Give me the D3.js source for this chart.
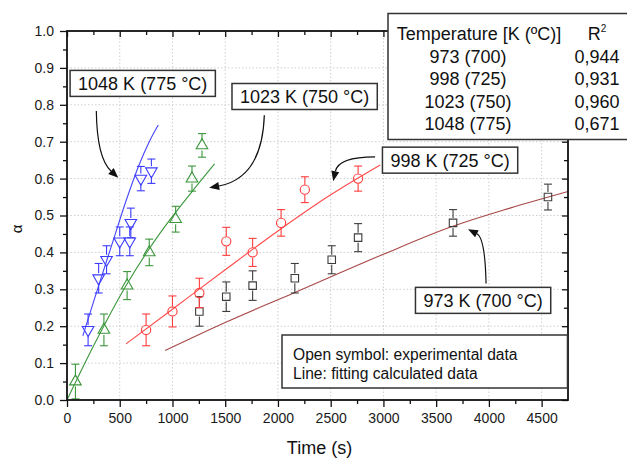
<!DOCTYPE html>
<html>
<head>
<meta charset="utf-8">
<script src="https://cdn.jsdelivr.net/npm/d3@7"></script>
<style>
  body { margin: 0; background: #fff; }
  svg { display: block; font-family: "Liberation Sans", Arial, sans-serif; }
</style>
</head>
<body>
<svg id="chart" width="627" height="458"></svg>
<script>
// experimental data: time (s), alpha, error
const t973 = [1255, 1510, 1760, 2160, 2510, 2760, 3660, 4560];
const a973 = [0.24, 0.28, 0.31, 0.33, 0.38, 0.44, 0.48, 0.55];
const e973 = [0.040, 0.040, 0.040, 0.040, 0.038, 0.038, 0.036, 0.035];

const t998 = [750, 1000, 1255, 1510, 1760, 2030, 2255, 2760];
const a998 = [0.19, 0.24, 0.29, 0.43, 0.40, 0.48, 0.57, 0.60];
const e998 = [0.043, 0.042, 0.040, 0.038, 0.038, 0.036, 0.035, 0.034];

const t1023 = [80, 350, 570, 780, 1030, 1185, 1280];
const a1023 = [0.05, 0.19, 0.31, 0.40, 0.49, 0.60, 0.69];
const e1023 = [0.047, 0.043, 0.038, 0.036, 0.035, 0.034, 0.032];

const t1048 = [200, 300, 375, 500, 595, 605, 700, 800];
const a1048 = [0.19, 0.33, 0.38, 0.43, 0.43, 0.48, 0.60, 0.62];
const e1048 = [0.043, 0.040, 0.038, 0.039, 0.039, 0.040, 0.033, 0.033];

// fitted curves
const fitT973 = [930, 1500, 2150, 3000, 3650, 4200, 4750];
const fitA973 = [0.134, 0.21, 0.29, 0.395, 0.47, 0.52, 0.565];
const fitT998 = [560, 1000, 1500, 2000, 2500, 2970];
const fitA998 = [0.152, 0.246, 0.353, 0.458, 0.556, 0.637];
const fitT1023 = [0, 240, 570, 780, 980, 1200, 1400];
const fitA1023 = [0, 0.14, 0.315, 0.41, 0.49, 0.57, 0.64];
const fitT1048 = [150, 300, 430, 560, 680, 780, 865];
const fitA1048 = [0.174, 0.31, 0.425, 0.54, 0.635, 0.70, 0.745];

// labels
const boxLabels = ["973 K (700 °C)", "998 K (725 °C)", "1023 K (750 °C)", "1048 K (775 °C)"];
const tempLabels = ["973 (700)", "998 (725)", "1023 (750)", "1048 (775)"];
const r2Labels = ["0,944", "0,931", "0,960", "0,671"];
const xTicks = [0, 500, 1000, 1500, 2000, 2500, 3000, 3500, 4000, 4500];
const yTicks = [0, 0.1, 0.2, 0.3, 0.4, 0.5, 0.6, 0.7, 0.8, 0.9, 1.0];

const svg = d3.select("#chart");
const margin = { top: 31, right: 59, bottom: 58, left: 67 };
const W = +svg.attr("width"), H = +svg.attr("height");
const x0 = margin.left, x1 = W - margin.right, y0 = H - margin.bottom, y1 = margin.top;

const x = d3.scaleLinear().domain([0, 4750]).range([x0, x1]);
const y = d3.scaleLinear().domain([0, 1]).range([y0, y1]);

const zip = (ts, as, es) => ts.map((t, i) => ({ t, a: as[i], e: es ? es[i] : 0 }));

const series = [
  { pts: zip(t973, a973, e973), fit: zip(fitT973, fitA973), color: "#3c3c3c", line: "#a84848", shape: "square" },
  { pts: zip(t998, a998, e998), fit: zip(fitT998, fitA998), color: "#ff3c3c", line: "#ff4a4a", shape: "circle" },
  { pts: zip(t1023, a1023, e1023), fit: zip(fitT1023, fitA1023), color: "#3a963a", line: "#3a963a", shape: "up" },
  { pts: zip(t1048, a1048, e1048), fit: zip(fitT1048, fitA1048), color: "#3c3cff", line: "#4444ff", shape: "down" }
];

// grid
svg.append("g").selectAll("line").data(xTicks.slice(1)).join("line")
  .attr("x1", d => x(d)).attr("x2", d => x(d)).attr("y1", y0).attr("y2", y1)
  .attr("stroke", "#cfcfcf").attr("stroke-dasharray", "1.5,2");
svg.append("g").selectAll("line").data(yTicks.slice(1)).join("line")
  .attr("x1", x0).attr("x2", x1).attr("y1", d => y(d)).attr("y2", d => y(d))
  .attr("stroke", "#cfcfcf").attr("stroke-dasharray", "1.5,2");

// fitted lines
const line = d3.line().x(d => x(d.t)).y(d => y(d.a)).curve(d3.curveMonotoneX);
series.forEach(s => {
  svg.append("path").datum(s.fit)
    .attr("fill", "none").attr("stroke", s.line).attr("stroke-width", 1.1)
    .attr("d", line);
});

// error bars + symbols
const gap = 5;
series.forEach(s => {
  const g = svg.append("g").attr("stroke", s.color).attr("fill", "none").attr("stroke-width", 1.1);
  s.pts.forEach(d => {
    const cx = x(d.t), cy = y(d.a), yt = y(d.a + d.e), yb = y(d.a - d.e);
    g.append("line").attr("x1", cx).attr("x2", cx).attr("y1", yt).attr("y2", cy - gap);
    g.append("line").attr("x1", cx).attr("x2", cx).attr("y1", cy + gap).attr("y2", yb);
    g.append("line").attr("x1", cx - 4).attr("x2", cx + 4).attr("y1", yt).attr("y2", yt);
    g.append("line").attr("x1", cx - 4).attr("x2", cx + 4).attr("y1", yb).attr("y2", yb);
    if (s.shape === "circle") {
      g.append("circle").attr("cx", cx).attr("cy", cy).attr("r", 4.6);
    } else if (s.shape === "square") {
      g.append("path").attr("d", d3.symbol(d3.symbolSquare, 56)())
        .attr("transform", `translate(${cx},${cy})`);
    } else {
      const rot = s.shape === "down" ? 180 : 0;
      g.append("path").attr("d", d3.symbol(d3.symbolTriangle, 58)())
        .attr("transform", `translate(${cx},${cy}) rotate(${rot})`);
    }
  });
});

// axes
const styleAxis = g => {
  g.select(".domain").remove();
  g.selectAll("line").attr("stroke", "#111").attr("stroke-width", 1.3);
  g.selectAll("text").attr("fill", "#1a1a1a").style("font-size", "14px")
    .style("font-family", "'Liberation Sans', Arial, sans-serif");
};
const minorX = d3.range(250, 4750, 500);
const minorY = d3.range(0.05, 1, 0.1);

svg.append("g").attr("transform", `translate(0,${y0})`)
  .call(d3.axisBottom(x).tickValues(xTicks).tickSize(7).tickPadding(6).tickFormat(d3.format("d")))
  .call(styleAxis);
svg.append("g").attr("transform", `translate(0,${y0})`)
  .call(d3.axisBottom(x).tickValues(minorX).tickSize(4).tickFormat(""))
  .call(styleAxis);
svg.append("g").attr("transform", `translate(${x0},0)`)
  .call(d3.axisLeft(y).tickValues(yTicks).tickSize(7).tickPadding(6).tickFormat(d3.format(".1f")))
  .call(styleAxis);
svg.append("g").attr("transform", `translate(${x0},0)`)
  .call(d3.axisLeft(y).tickValues(minorY).tickSize(4).tickFormat(""))
  .call(styleAxis);
// mirrored axes, ticks inward
svg.append("g").attr("transform", `translate(0,${y1})`)
  .call(d3.axisBottom(x).tickValues(xTicks).tickSize(6).tickFormat(""))
  .call(styleAxis);
svg.append("g").attr("transform", `translate(0,${y1})`)
  .call(d3.axisBottom(x).tickValues(minorX).tickSize(4).tickFormat(""))
  .call(styleAxis);
svg.append("g").attr("transform", `translate(${x1},0)`)
  .call(d3.axisLeft(y).tickValues(yTicks).tickSize(6).tickFormat(""))
  .call(styleAxis);
svg.append("g").attr("transform", `translate(${x1},0)`)
  .call(d3.axisLeft(y).tickValues(minorY).tickSize(4).tickFormat(""))
  .call(styleAxis);

svg.append("rect").attr("x", x0).attr("y", y1).attr("width", x1 - x0).attr("height", y0 - y1)
  .attr("fill", "none").attr("stroke", "#111").attr("stroke-width", 1.8);

// axis titles
svg.append("text").attr("x", (x0 + x1) / 2 + 2).attr("y", 454).attr("text-anchor", "middle")
  .style("font-size", "18px").attr("fill", "#111").text("Time (s)");
svg.append("text").attr("transform", "translate(22,229) rotate(-90)").attr("text-anchor", "middle")
  .style("font-size", "15px").attr("fill", "#111").text("α");

// note box
const note = svg.append("g");
note.append("rect").attr("x", 282).attr("y", 335).attr("width", 285.5).attr("height", 53)
  .attr("fill", "#fff").attr("stroke", "#333").attr("stroke-width", 1.5);
note.append("text").attr("x", 293).attr("y", 360).style("font-size", "15.6px").attr("fill", "#111")
  .text("Open symbol: experimental data");
note.append("text").attr("x", 293).attr("y", 379).style("font-size", "15.6px").attr("fill", "#111")
  .text("Line: fitting calculated data");

// annotation boxes and curved arrows (in data units)
const notes = [
  { label: boxLabels[0], box: [3945, 0.270], from: [3973, 0.316], ctrl: [3964, 0.439], to: [3802, 0.463] },
  { label: boxLabels[1], box: [3632, 0.650], from: [2921, 0.659], ctrl: [2573, 0.659], to: [2524, 0.593] },
  { label: boxLabels[2], box: [2253, 0.8225], from: [1871, 0.772], ctrl: [1850, 0.602], to: [1348, 0.575] },
  { label: boxLabels[3], box: [718, 0.858], from: [278, 0.783], ctrl: [284, 0.656], to: [486, 0.602] }
];
notes.forEach(n => {
  const sx = x(n.from[0]), sy = y(n.from[1]);
  const cx = x(n.ctrl[0]), cy = y(n.ctrl[1]);
  const ex = x(n.to[0]), ey = y(n.to[1]);
  const ang = Math.atan2(ey - cy, ex - cx);
  const len = 10, hw = 4;
  const bx = ex - len * Math.cos(ang), by = ey - len * Math.sin(ang);
  const p = d3.path();
  p.moveTo(sx, sy);
  p.quadraticCurveTo(cx, cy, bx, by);
  svg.append("path").attr("d", p.toString()).attr("fill", "none").attr("stroke", "#111").attr("stroke-width", 1.2);
  const px = -Math.sin(ang), py = Math.cos(ang);
  svg.append("path")
    .attr("d", `M${ex},${ey}L${bx + hw * px},${by + hw * py}L${bx - hw * px},${by - hw * py}Z`)
    .attr("fill", "#111");

  const g = svg.append("g");
  const bxC = x(n.box[0]), byC = y(n.box[1]);
  const r = g.append("rect").attr("fill", "#fff").attr("stroke", "#333").attr("stroke-width", 1.5);
  const txt = g.append("text").attr("x", bxC).attr("y", byC + 6.4).attr("text-anchor", "middle")
    .style("font-size", "18px").attr("fill", "#111").text(n.label);
  const w = txt.node().getComputedTextLength() + 16;
  r.attr("x", bxC - w / 2).attr("y", byC - 13).attr("width", w).attr("height", 26);
});

// R² table
const leg = svg.append("g");
leg.append("rect").attr("x", 388).attr("y", 13.5).attr("width", 260).attr("height", 126)
  .attr("fill", "#fff").attr("stroke", "#333").attr("stroke-width", 1.5);
leg.append("text").attr("x", 479).attr("y", 39.5).attr("text-anchor", "middle")
  .style("font-size", "18px").attr("fill", "#111").text("Temperature [K (ºC)]");
const r2h = leg.append("text").attr("x", 597).attr("y", 39.5).attr("text-anchor", "middle")
  .style("font-size", "18px").attr("fill", "#111");
r2h.append("tspan").text("R");
r2h.append("tspan").attr("dy", -8).style("font-size", "10px").text("2");
tempLabels.forEach((t, i) => {
  leg.append("text").attr("x", 468).attr("y", 62.7 + i * 22.4).attr("text-anchor", "middle")
    .style("font-size", "18px").attr("fill", "#111").text(t);
  leg.append("text").attr("x", 597).attr("y", 62.7 + i * 22.4).attr("text-anchor", "middle")
    .style("font-size", "18px").attr("fill", "#111").text(r2Labels[i]);
});
</script>
</body>
</html>
